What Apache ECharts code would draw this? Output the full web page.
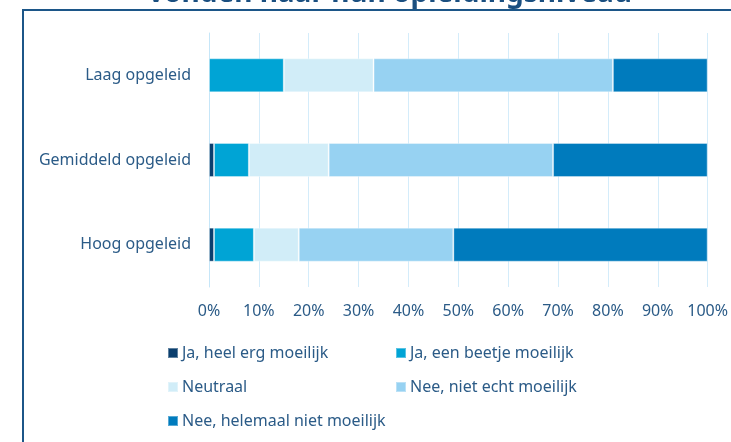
<!DOCTYPE html>
<html>
<head>
<meta charset="utf-8">
<script src="https://cdn.jsdelivr.net/npm/echarts@6/dist/echarts.min.js"></script>
<style>
  html, body { margin: 0; padding: 0; background: #ffffff; }
  #chart { width: 731px; height: 442px; }
</style>
</head>
<body>
<div id="chart"></div>
<script>
// Education levels (top to bottom)
const categories = ['Laag opgeleid', 'Gemiddeld opgeleid', 'Hoog opgeleid'];

// Answer shares in percent, per education level in the order above
const jaHeelErg      = [0, 1, 1];
const jaBeetje       = [15, 7, 8];
const neutraal       = [18, 16, 9];
const neeNietEcht    = [48, 45, 31];
const neeHelemaalNiet = [19, 31, 51];

const seriesNames = [
  'Ja, heel erg moeilijk',
  'Ja, een beetje moeilijk',
  'Neutraal',
  'Nee, niet echt moeilijk',
  'Nee, helemaal niet moeilijk'
];
const seriesValues = [jaHeelErg, jaBeetje, neutraal, neeNietEcht, neeHelemaalNiet];
const seriesColors = ['#0b3f6e', '#00a4d5', '#d1edf8', '#97d2f2', '#007bbd'];

const xTicks = [0, 10, 20, 30, 40, 50, 60, 70, 80, 90, 100];

const textColor = '#2b5b87';
const fontFamily = '"Source Sans Pro", "Noto Sans", sans-serif';

const chart = echarts.init(document.getElementById('chart'), null, { renderer: 'canvas' });

// Legend in two columns: each entry gets its own slot
const legendSlots = [
  { left: 167, top: 343 },
  { left: 395, top: 343 },
  { left: 167, top: 377 },
  { left: 395, top: 377 },
  { left: 167, top: 411 }
];

const option = {
  backgroundColor: '#ffffff',
  animation: false,
  textStyle: { fontFamily: fontFamily },
  graphic: [
    {
      type: 'rect',
      shape: { x: 23, y: 10, width: 800, height: 600 },
      style: { fill: 'none', stroke: '#1c5688', lineWidth: 2 },
      silent: true
    },
    {
      type: 'text',
      x: 390,
      y: 8,
      style: {
        text: 'vonden naar hun opleidingsniveau',
        textAlign: 'center',
        textVerticalAlign: 'bottom',
        fill: '#1a4f80',
        font: 'bold 28px "Source Sans Pro", "Noto Sans", sans-serif'
      },
      silent: true
    }
  ],
  grid: { left: 209, right: 20, top: 33, bottom: 155, containLabel: false },
  xAxis: {
    type: 'value',
    min: 0,
    max: 100,
    interval: 10,
    axisLine: { show: false },
    axisTick: { show: false },
    splitLine: { show: true, lineStyle: { color: '#d4ecfa', width: 1 } },
    axisLabel: {
      margin: 16,
      color: textColor,
      fontSize: 16,
      fontFamily: fontFamily,
      formatter: function (v) { return xTicks.indexOf(v) >= 0 ? v + '%' : ''; }
    }
  },
  yAxis: {
    type: 'category',
    data: categories,
    inverse: true,
    axisLine: { show: true, lineStyle: { color: '#c6e6f8', width: 1 } },
    axisTick: { show: false },
    axisLabel: { margin: 18, color: textColor, fontSize: 16, fontFamily: fontFamily }
  },
  legend: seriesNames.map(function (name, i) {
    return {
      data: [name],
      left: legendSlots[i].left,
      top: legendSlots[i].top,
      icon: 'rect',
      itemWidth: 10,
      itemHeight: 10,
      itemGap: 0,
      padding: 0,
      selectedMode: false,
      textStyle: { color: textColor, fontSize: 16, fontFamily: fontFamily, lineHeight: 20, padding: [0, 0, 0, -1] }
    };
  }),
  series: seriesNames.map(function (name, i) {
    return {
      name: name,
      type: 'bar',
      stack: 'total',
      barWidth: 34,
      data: seriesValues[i],
      itemStyle: {
        color: seriesColors[i],
        borderColor: 'rgba(255,255,255,0.35)',
        borderWidth: 1
      }
    };
  })
};

chart.setOption(option);
</script>
</body>
</html>
